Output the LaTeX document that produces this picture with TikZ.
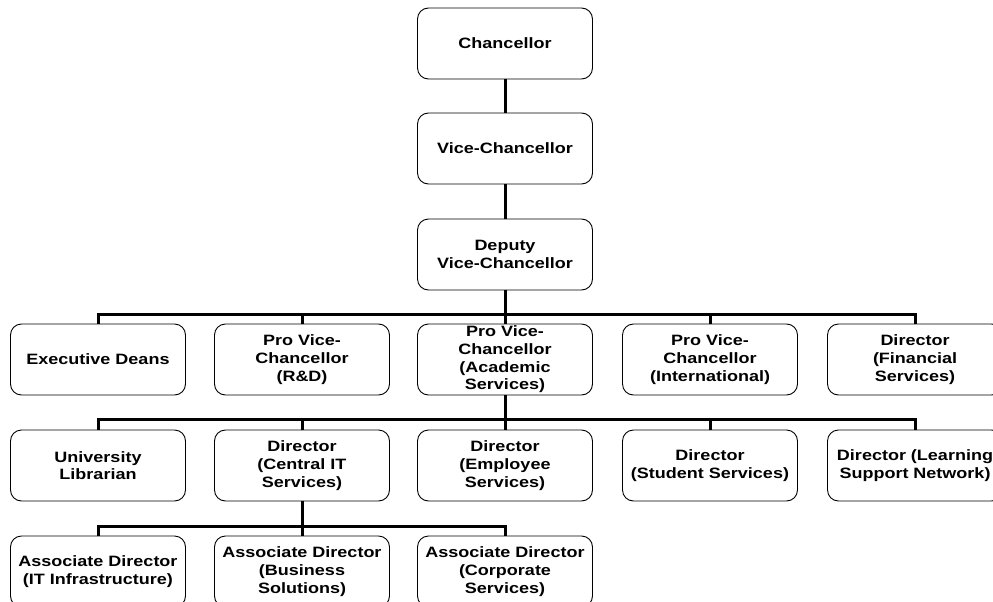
\documentclass[tikz,border=0pt]{standalone}
\usepackage{fontspec}
\setmainfont{Liberation Sans}[FakeStretch=1.2]

\begin{document}
\begin{tikzpicture}[x=1pt,y=1pt,
  bx/.style={draw, line width=0.9pt, rounded corners=11pt, minimum width=175pt, minimum height=71pt,
    inner sep=0pt, align=center, font=\bfseries\fontsize{15}{17.7}\selectfont},
  ln/.style={line width=3pt}]
\useasboundingbox (0,0) rectangle (993,-602);
\clip (0,0) rectangle (993,-602);
% top of the tree
\node[bx] (ch)  at (505,-43.5)  {Chancellor};
\node[bx] (vc)  at (505,-148.5) {Vice-Chancellor};
\node[bx] (dvc) at (505,-254.5) {Deputy\\Vice-Chancellor};
% second level
\node[bx] (ed)   at (98,-359.5)  {Executive Deans};
\node[bx] (rd)   at (302,-359.5) {Pro Vice-\\Chancellor\\(R\&D)};
\node[bx] (as)   at (505,-359.5) {Pro Vice-\\Chancellor\\(Academic\\Services)};
\node[bx] (intl) at (710,-359.5) {Pro Vice-\\Chancellor\\(International)};
\node[bx] (fs)   at (915,-359.5) {Director\\(Financial\\Services)};
% third level
\node[bx] (ul)  at (98,-465.5)  {University\\Librarian};
\node[bx] (cit) at (302,-465.5) {Director\\(Central IT\\Services)};
\node[bx] (es)  at (505,-465.5) {Director\\(Employee\\Services)};
\node[bx] (ss)  at (710,-465.5) {Director\\(Student Services)};
\node[bx] (lsn) at (915,-465.5) {Director (Learning\\Support Network)};
% fourth level
\node[bx] (itf) at (98,-571.5)  {Associate Director\\(IT Infrastructure)};
\node[bx] (bs)  at (302,-571.5) {Associate Director\\(Business\\Solutions)};
\node[bx] (cs)  at (505,-571.5) {Associate Director\\(Corporate\\Services)};
% links
\draw[ln] (ch) -- (vc);
\draw[ln] (vc) -- (dvc);
\foreach \n in {ed,rd,as,intl,fs}
  \draw[ln] (dvc.south) -- ++(0,-24) -| (\n.north);
\foreach \n in {ul,cit,es,ss,lsn}
  \draw[ln] (as.south) -- ++(0,-24) -| (\n.north);
\foreach \n in {itf,bs,cs}
  \draw[ln] (cit.south) -- ++(0,-25) -| (\n.north);
\end{tikzpicture}
\end{document}
